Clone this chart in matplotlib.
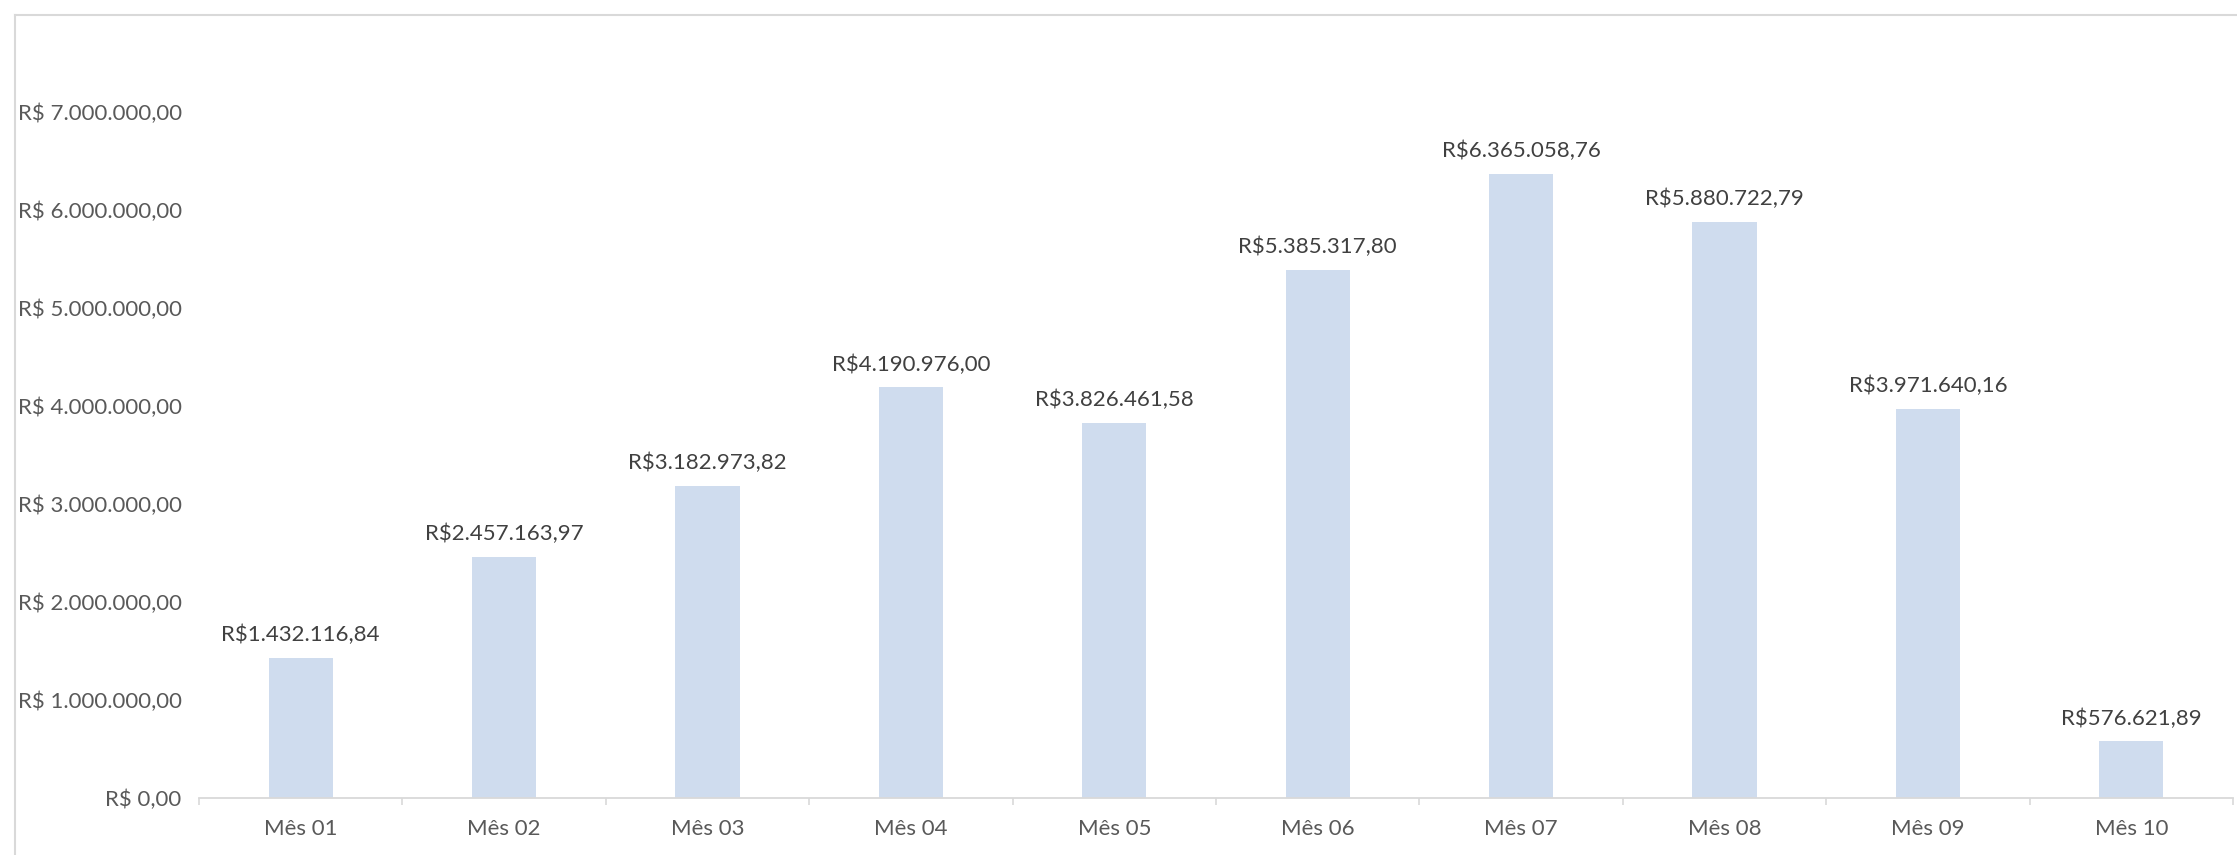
import matplotlib
matplotlib.use("Agg")
import matplotlib.pyplot as plt
from matplotlib.lines import Line2D
import numpy as np

categories = ["Mês 01", "Mês 02", "Mês 03", "Mês 04", "Mês 05",
              "Mês 06", "Mês 07", "Mês 08", "Mês 09", "Mês 10"]
values = [1432116.84, 2457163.97, 3182973.82, 4190976.00, 3826461.58,
          5385317.80, 6365058.76, 5880722.79, 3971640.16, 576621.89]
yticks = [0, 1000000, 2000000, 3000000, 4000000, 5000000, 6000000, 7000000]

plt.rcParams['font.family'] = ['Lato', 'DejaVu Sans']

def brl(v, space=True):
    s = f"{v:,.2f}".replace(",", "X").replace(".", ",").replace("X", ".")
    return ("R$ " if space else "R$") + s

W, H = 2237, 855
fig = plt.figure(figsize=(W / 100, H / 100), dpi=100)
fig.patch.set_facecolor("white")

left, right, bottom, top = 199, 2233, 798, 112
ax = fig.add_axes([left / W, 1 - bottom / H, (right - left) / W, (bottom - top) / H])

x = np.arange(len(categories))
bar_color = "#CFDCEE"
ax.bar(x, values, width=0.315, color=bar_color, zorder=2)

ax.set_xlim(-0.5, len(categories) - 0.5)
ax.set_ylim(0, 7000000)

fs = 16
for xi, v in zip(x, values):
    ax.annotate(brl(v, space=False), (xi, v), xytext=(0, 12), textcoords="offset points",
                ha="center", va="baseline", fontsize=fs, color="#404040", clip_on=False)

ax.set_yticks(yticks)
ax.set_yticklabels([brl(t) for t in yticks])
ax.tick_params(axis="y", length=0, pad=12.5, labelsize=fs, labelcolor="#595959")

ax.set_xticks(x)
ax.set_xticklabels(categories)
ax.set_xticks(np.arange(-0.5, len(categories)), minor=True)
ax.tick_params(axis="x", which="major", length=0, pad=15, labelsize=fs, labelcolor="#595959")
ax.tick_params(axis="x", which="minor", length=5, width=1.2, color="#D9D9D9", direction="out")

for side in ["top", "right", "left"]:
    ax.spines[side].set_visible(False)
ax.spines["bottom"].set_color("#D9D9D9")
ax.spines["bottom"].set_linewidth(1.3)

# outer chart border (top and left visible)
bx, by = 14.5 / W, 1 - 15.5 / H
fig.add_artist(Line2D([bx, 1.0], [by, by], transform=fig.transFigure, color="#D9D9D9", lw=1.5))
fig.add_artist(Line2D([bx, bx], [0, by], transform=fig.transFigure, color="#D9D9D9", lw=1.5))

fig.savefig("out.png", dpi=100, facecolor="white")
